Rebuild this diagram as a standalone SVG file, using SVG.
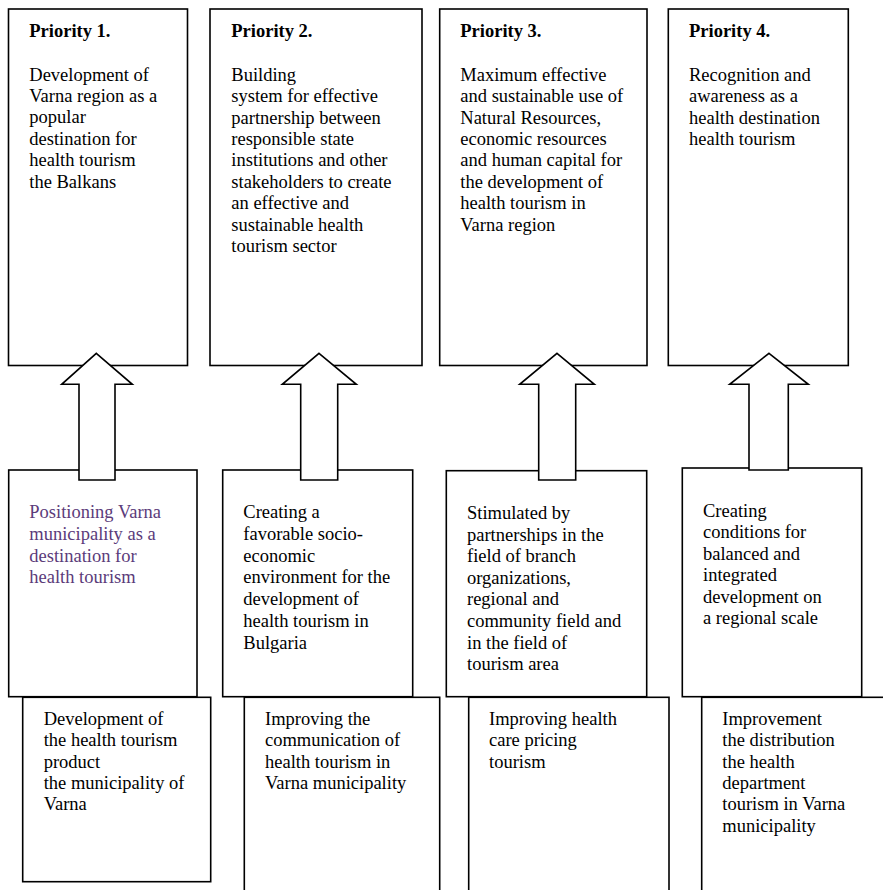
<svg xmlns="http://www.w3.org/2000/svg" width="883" height="890" viewBox="0 0 883 890">
<style>
.box{fill:#fff;stroke:#000;stroke-width:1.6}
.arr{fill:#fff;stroke:#000;stroke-width:1.6;stroke-linejoin:miter}
text{font-family:"Liberation Serif","Times New Roman",serif;font-size:18.5px;fill:#000}
.b{font-weight:bold}
.p{fill:#5b3b7a}
</style>
<rect width="883" height="890" fill="#fff"/>
<g id="priority1">
<rect class="box" x="8.5" y="9" width="179" height="356.5"/>
<text x="29.3" y="37.3" class="b">Priority 1.</text>
<text x="29.3" y="80.7">Development of</text>
<text x="29.3" y="102">Varna region as a</text>
<text x="29.3" y="123.4">popular</text>
<text x="29.3" y="144.7">destination for</text>
<text x="29.3" y="166">health tourism</text>
<text x="29.3" y="187.7">the Balkans</text>
</g>
<g id="priority2">
<rect class="box" x="210" y="9" width="212" height="356.5"/>
<text x="231.3" y="37.3" class="b">Priority 2.</text>
<text x="231.3" y="80.7">Building</text>
<text x="231.3" y="102.1">system for effective</text>
<text x="231.3" y="123.5">partnership between</text>
<text x="231.3" y="144.9">responsible state</text>
<text x="231.3" y="166.3">institutions and other</text>
<text x="231.3" y="187.7">stakeholders to create</text>
<text x="231.3" y="209.1">an effective and</text>
<text x="231.3" y="230.5">sustainable health</text>
<text x="231.3" y="251.9">tourism sector</text>
</g>
<g id="priority3">
<rect class="box" x="439.7" y="9" width="207.3" height="356.5"/>
<text x="460.3" y="37.3" class="b">Priority 3.</text>
<text x="460.3" y="80.7">Maximum effective</text>
<text x="460.3" y="102.1">and sustainable use of</text>
<text x="460.3" y="123.5">Natural Resources,</text>
<text x="460.3" y="144.9">economic resources</text>
<text x="460.3" y="166.3">and human capital for</text>
<text x="460.3" y="187.7">the development of</text>
<text x="460.3" y="209.1">health tourism in</text>
<text x="460.3" y="230.5">Varna region</text>
</g>
<g id="priority4">
<rect class="box" x="668.3" y="9" width="180" height="356.5"/>
<text x="689" y="37.3" class="b">Priority 4.</text>
<text x="689" y="80.7">Recognition and</text>
<text x="689" y="102.1">awareness as a</text>
<text x="689" y="123.5">health destination</text>
<text x="689" y="144.9">health tourism</text>
</g>
<g id="goal1">
<rect class="box" x="8.7" y="470" width="188.3" height="226.7"/>
<text x="29.3" y="518.3" class="p">Positioning Varna</text>
<text x="29.3" y="540" class="p">municipality as a</text>
<text x="29.3" y="561.7" class="p">destination for</text>
<text x="29.3" y="583.4" class="p">health tourism</text>
</g>
<g id="goal2">
<rect class="box" x="222.7" y="470" width="190" height="226.7"/>
<text x="243.3" y="518.3">Creating a</text>
<text x="243.3" y="540">favorable socio-</text>
<text x="243.3" y="561.7">economic</text>
<text x="243.3" y="583.4">environment for the</text>
<text x="243.3" y="605.1">development of</text>
<text x="243.3" y="626.8">health tourism in</text>
<text x="243.3" y="648.5">Bulgaria</text>
</g>
<g id="goal3">
<rect class="box" x="446.3" y="470.7" width="200.4" height="226"/>
<text x="467" y="519">Stimulated by</text>
<text x="467" y="540.6">partnerships in the</text>
<text x="467" y="562.2">field of branch</text>
<text x="467" y="583.8">organizations,</text>
<text x="467" y="605.4">regional and</text>
<text x="467" y="627">community field and</text>
<text x="467" y="648.6">in the field of</text>
<text x="467" y="670.2">tourism area</text>
</g>
<g id="goal4">
<rect class="box" x="682.3" y="468" width="179.4" height="228.7"/>
<text x="703" y="516.7">Creating</text>
<text x="703" y="538.2">conditions for</text>
<text x="703" y="559.7">balanced and</text>
<text x="703" y="581.2">integrated</text>
<text x="703" y="602.7">development on</text>
<text x="703" y="624.2">a regional scale</text>
</g>
<g id="measure1">
<rect class="box" x="22.7" y="697.3" width="188" height="184.4"/>
<text x="43.7" y="725">Development of</text>
<text x="43.7" y="746.3">the health tourism</text>
<text x="43.7" y="767.6">product</text>
<text x="43.7" y="788.9">the municipality of</text>
<text x="43.7" y="810.2">Varna</text>
</g>
<g id="measure2">
<rect class="box" x="244.3" y="697.3" width="195.4" height="210"/>
<text x="265" y="725">Improving the</text>
<text x="265" y="746.3">communication of</text>
<text x="265" y="767.6">health tourism in</text>
<text x="265" y="788.9">Varna municipality</text>
</g>
<g id="measure3">
<rect class="box" x="468.7" y="697.3" width="200.3" height="210"/>
<text x="489" y="725">Improving health</text>
<text x="489" y="746.3">care pricing</text>
<text x="489" y="767.6">tourism</text>
</g>
<g id="measure4">
<rect class="box" x="701.7" y="697.3" width="200" height="210"/>
<text x="722.3" y="725">Improvement</text>
<text x="722.3" y="746.3">the distribution</text>
<text x="722.3" y="767.6">the health</text>
<text x="722.3" y="788.9">department</text>
<text x="722.3" y="810.2">tourism in Varna</text>
<text x="722.3" y="831.5">municipality</text>
</g>
<g id="connectors">
<polygon class="arr" points="96.3,353.3 132.3,384.3 115,384.3 115,480 79,480 79,384.3 61.7,384.3"/>
<polygon class="arr" points="319,353.3 356.3,384.3 337.7,384.3 337.7,480 300.7,480 300.7,384.3 282.3,384.3"/>
<polygon class="arr" points="557,353.3 594.3,384.3 575.7,384.3 575.7,480 538.7,480 538.7,384.3 519.7,384.3"/>
<polygon class="arr" points="769,353.3 808.3,384.3 788.3,384.3 788.3,470 749,470 749,384.3 729.7,384.3"/>
</g>
</svg>
